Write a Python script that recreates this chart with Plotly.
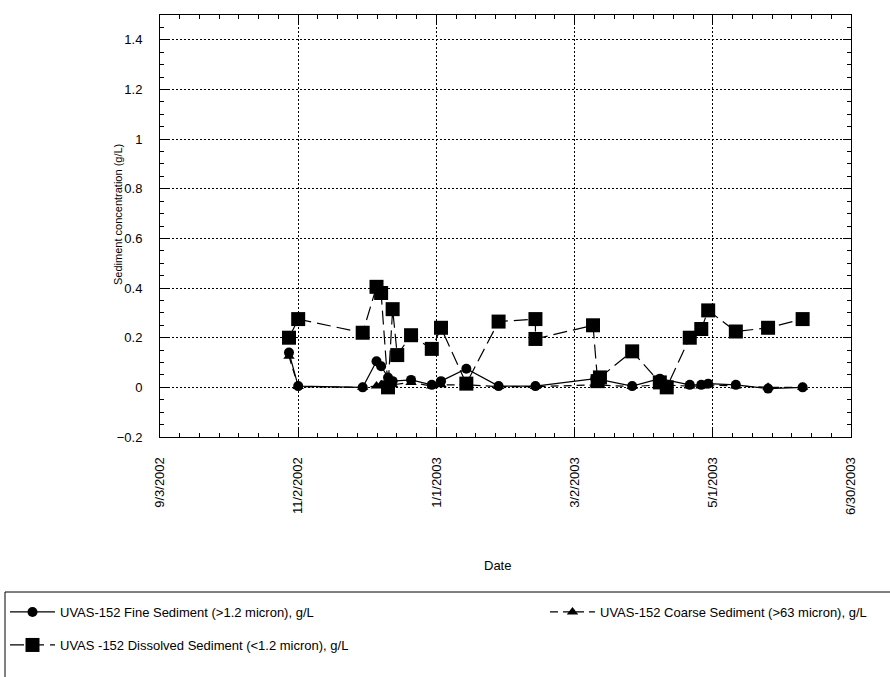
import plotly.graph_objects as go

# ---- data ----
fine_dates = ["2002-10-29", "2002-11-02", "2002-11-30", "2002-12-06", "2002-12-08", "2002-12-11",
              "2002-12-13", "2002-12-21", "2002-12-30", "2003-01-03", "2003-01-14", "2003-01-28",
              "2003-02-13", "2003-03-11", "2003-03-27", "2003-04-08", "2003-04-21", "2003-04-26",
              "2003-04-29", "2003-05-11", "2003-05-25", "2003-06-09"]
fine_vals = [0.14, 0.005, 0.0, 0.105, 0.085, 0.04, 0.025, 0.03, 0.01, 0.025, 0.075, 0.005,
             0.005, 0.035, 0.005, 0.035, 0.01, 0.01, 0.015, 0.01, -0.005, 0.0]

coarse_dates = fine_dates
coarse_vals = [0.125, 0.003, 0.0, 0.005, 0.01, 0.02, 0.01, 0.02, 0.005, 0.01, 0.01, 0.003,
               0.003, 0.01, 0.003, 0.01, 0.005, 0.005, 0.01, 0.005, 0.0, 0.0]

diss_dates = ["2002-10-29", "2002-11-02", "2002-11-30", "2002-12-06", "2002-12-08", "2002-12-11",
              "2002-12-13", "2002-12-15", "2002-12-21", "2002-12-30", "2003-01-03", "2003-01-14",
              "2003-01-28", "2003-02-13", "2003-02-13", "2003-03-10", "2003-03-12", "2003-03-13",
              "2003-03-27", "2003-04-08", "2003-04-11", "2003-04-21", "2003-04-26", "2003-04-29",
              "2003-05-11", "2003-05-25", "2003-06-09"]
diss_vals = [0.20, 0.275, 0.22, 0.405, 0.38, 0.0, 0.315, 0.13, 0.21, 0.155, 0.24, 0.015,
             0.265, 0.275, 0.195, 0.25, 0.025, 0.04, 0.145, 0.02, 0.0, 0.2, 0.235, 0.31,
             0.225, 0.24, 0.275]

tick_dates = ["2002-09-03", "2002-11-02", "2003-01-01", "2003-03-02", "2003-05-01", "2003-06-30"]
tick_labels = ["9/3/2002", "11/2/2002", "1/1/2003", "3/2/2003", "5/1/2003", "6/30/2003"]

names = ["UVAS-152 Fine Sediment (>1.2 micron), g/L",
         "UVAS-152 Coarse Sediment (>63 micron), g/L",
         "UVAS -152 Dissolved Sediment (<1.2 micron), g/L"]

FONT = "Liberation Sans, Arial, sans-serif"
W, H = 890, 677
L, R, T, B = 160, 39, 15, 240
PW, PH = W - L - R, H - T - B


def px_x(p):
    return (p - L) / PW


def px_y(p):
    return (H - B - p) / PH


fig = go.Figure()
fig.add_trace(go.Scatter(x=fine_dates, y=fine_vals, name=names[0], mode="lines+markers",
                         legend="legend",
                         line=dict(color="black", width=1.2),
                         marker=dict(symbol="circle", size=10, color="black")))
fig.add_trace(go.Scatter(x=coarse_dates, y=coarse_vals, name=names[1], mode="lines+markers",
                         legend="legend2",
                         line=dict(color="black", width=1.2, dash="8px,5px"),
                         marker=dict(symbol="triangle-up", size=10, color="black")))
fig.add_trace(go.Scatter(x=diss_dates, y=diss_vals, name=names[2], mode="lines+markers",
                         legend="legend3",
                         line=dict(color="black", width=1.2, dash="14px,6px"),
                         marker=dict(symbol="square", size=14, color="black")))

leg_common = dict(xref="container", yref="container", xanchor="left", yanchor="top",
                  bgcolor="rgba(0,0,0,0)", borderwidth=0, itemwidth=45,
                  font=dict(size=13, family=FONT))

day_ms = 86400000
fig.update_layout(
    width=W, height=H,
    margin=dict(l=L, r=R, t=T, b=B, autoexpand=False),
    paper_bgcolor="white", plot_bgcolor="white",
    font=dict(family=FONT, color="black", size=13),
    showlegend=True,
    legend=dict(x=5 / W, y=(H - 597) / H, **leg_common),
    legend2=dict(x=545 / W, y=(H - 597) / H, **leg_common),
    legend3=dict(x=5 / W, y=(H - 630) / H, **leg_common),
    xaxis=dict(type="date", range=["2002-09-03", "2003-06-30"],
               tickmode="array", tickvals=tick_dates, ticktext=tick_labels, tickangle=-90,
               ticks="inside", ticklen=8, tickcolor="black", ticklabelstandoff=14,
               minor=dict(ticks="inside", ticklen=4, tickcolor="black", dtick=60 * day_ms / 7,
                          tick0="2002-09-03", showgrid=False),
               showline=True, linecolor="black", linewidth=1, mirror="allticks",
               showgrid=True, gridcolor="black", griddash="2px,2px", gridwidth=1,
               zeroline=False, tickfont=dict(size=13), automargin=False),
    yaxis=dict(range=[-0.2, 1.5], tickmode="linear", tick0=-0.2, dtick=0.2,
               ticks="inside", ticklen=8, tickcolor="black", ticklabelstandoff=14,
               minor=dict(ticks="inside", ticklen=4, tickcolor="black", dtick=0.05, showgrid=False),
               showline=True, linecolor="black", linewidth=1, mirror="allticks",
               showgrid=True, gridcolor="black", griddash="2px,2px", gridwidth=1,
               zeroline=False, tickfont=dict(size=13), automargin=False),
    shapes=[dict(type="rect", xref="paper", yref="paper",
                 x0=px_x(5), x1=px_x(900), y0=px_y(592), y1=px_y(690),
                 line=dict(color="black", width=1), fillcolor="rgba(0,0,0,0)")],
    annotations=[
        dict(text="Date", xref="paper", yref="paper", x=px_x(497), y=px_y(565),
             xanchor="center", yanchor="middle", showarrow=False, font=dict(size=13)),
        dict(text="Sediment concentration (g/L)", xref="paper", yref="paper",
             x=px_x(118), y=px_y(215), textangle=-90,
             xanchor="center", yanchor="middle", showarrow=False, font=dict(size=11)),
    ],
)

fig.write_html("out.html")
